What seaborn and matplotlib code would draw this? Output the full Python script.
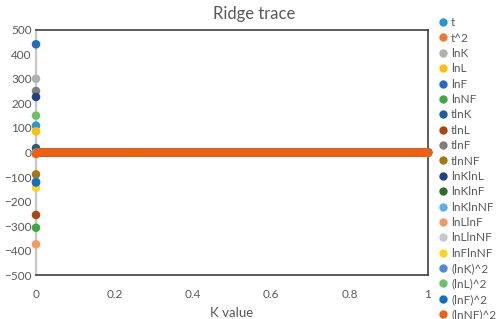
import numpy as np
import pandas as pd
import matplotlib.pyplot as plt
import seaborn as sns
from matplotlib.lines import Line2D

sns.set_theme(style="white")
plt.rcParams['font.family'] = ['Lato', 'DejaVu Sans']

# series names in legend order
series = ["t", "t^2", "lnK", "lnL", "lnF", "lnNF", "tlnK", "tlnL", "tlnF", "tlnNF",
          "lnKlnL", "lnKlnF", "lnKlnNF", "lnLlnF", "lnLlnNF", "lnFlnNF",
          "(lnK)^2", "(lnL)^2", "(lnF)^2", "(lnNF)^2"]

colors = ["#1F9AD8", "#F07828", "#B0B0B0", "#FFC000", "#1E6CC8", "#3DAA3D",
          "#1B5F94", "#B0440F", "#7F7F7F", "#A6780A", "#1F4280", "#2A6E2A",
          "#5AB0E8", "#F7985E", "#C8C8C8", "#FFD31A", "#4C8ADC", "#6EC266",
          "#0A72C8", "#F06010"]

# coefficients at K = 0
coef_k0 = [109, 0, 300, 86, 440, -306, 18, -254, 250, -89,
           226, 5, -2, -373, -3, -143, -119, 150, -122, -6]

# K grid; for K > 0 every coefficient sits at ~0 on this scale
k_values = np.round(np.arange(0, 1.0001, 0.005), 3)
coef_after_k0 = 0.0

rows = []
for name, v0 in zip(series, coef_k0):
    for k in k_values:
        rows.append({"K": k, "coef": v0 if k == 0 else coef_after_k0, "series": name})
df = pd.DataFrame(rows)

fig = plt.figure(figsize=(4.98, 3.19), dpi=100)
ax = fig.add_axes([0.0723, 0.1364, 0.787, 0.771])

ax.axvline(0, color="#C8C8C8", lw=1.6, zorder=1)
sns.scatterplot(data=df, x="K", y="coef", hue="series", hue_order=series,
                palette=dict(zip(series, colors)), s=38, linewidth=0,
                legend=False, ax=ax, zorder=3, clip_on=False)

ax.set_xlim(0, 1)
ax.set_ylim(-500, 500)
ax.set_xticks([0, 0.2, 0.4, 0.6, 0.8, 1])
ax.set_xticklabels(["0", "0.2", "0.4", "0.6", "0.8", "1"])
ax.set_yticks(range(-500, 501, 100))
ax.tick_params(axis="both", length=0, labelsize=8.5, labelcolor="#595959")
ax.tick_params(axis="x", pad=10)
ax.tick_params(axis="y", pad=3)
for side in ["top", "right", "bottom"]:
    ax.spines[side].set_color("#404040")
    ax.spines[side].set_linewidth(1.2)
ax.spines["left"].set_color("#C8C8C8")
ax.spines["left"].set_linewidth(1.6)

ax.set_xlabel("K value", fontsize=9.5, color="#595959", labelpad=5)
ax.set_ylabel("")
fig.text(0.51, 0.955, "Ridge trace", ha="center", va="center", fontsize=12, color="#595959")

handles = [Line2D([], [], marker="o", ls="", color=c, markersize=6, markeredgewidth=0)
           for c in colors]
fig.legend(handles, series, loc="upper left", bbox_to_anchor=(0.882, 0.946),
           frameon=False, fontsize=8.5, labelspacing=0.37, handlelength=0.6,
           handletextpad=0.4, borderaxespad=0, borderpad=0, labelcolor="#595959")

fig.savefig("out.png", dpi=100)
